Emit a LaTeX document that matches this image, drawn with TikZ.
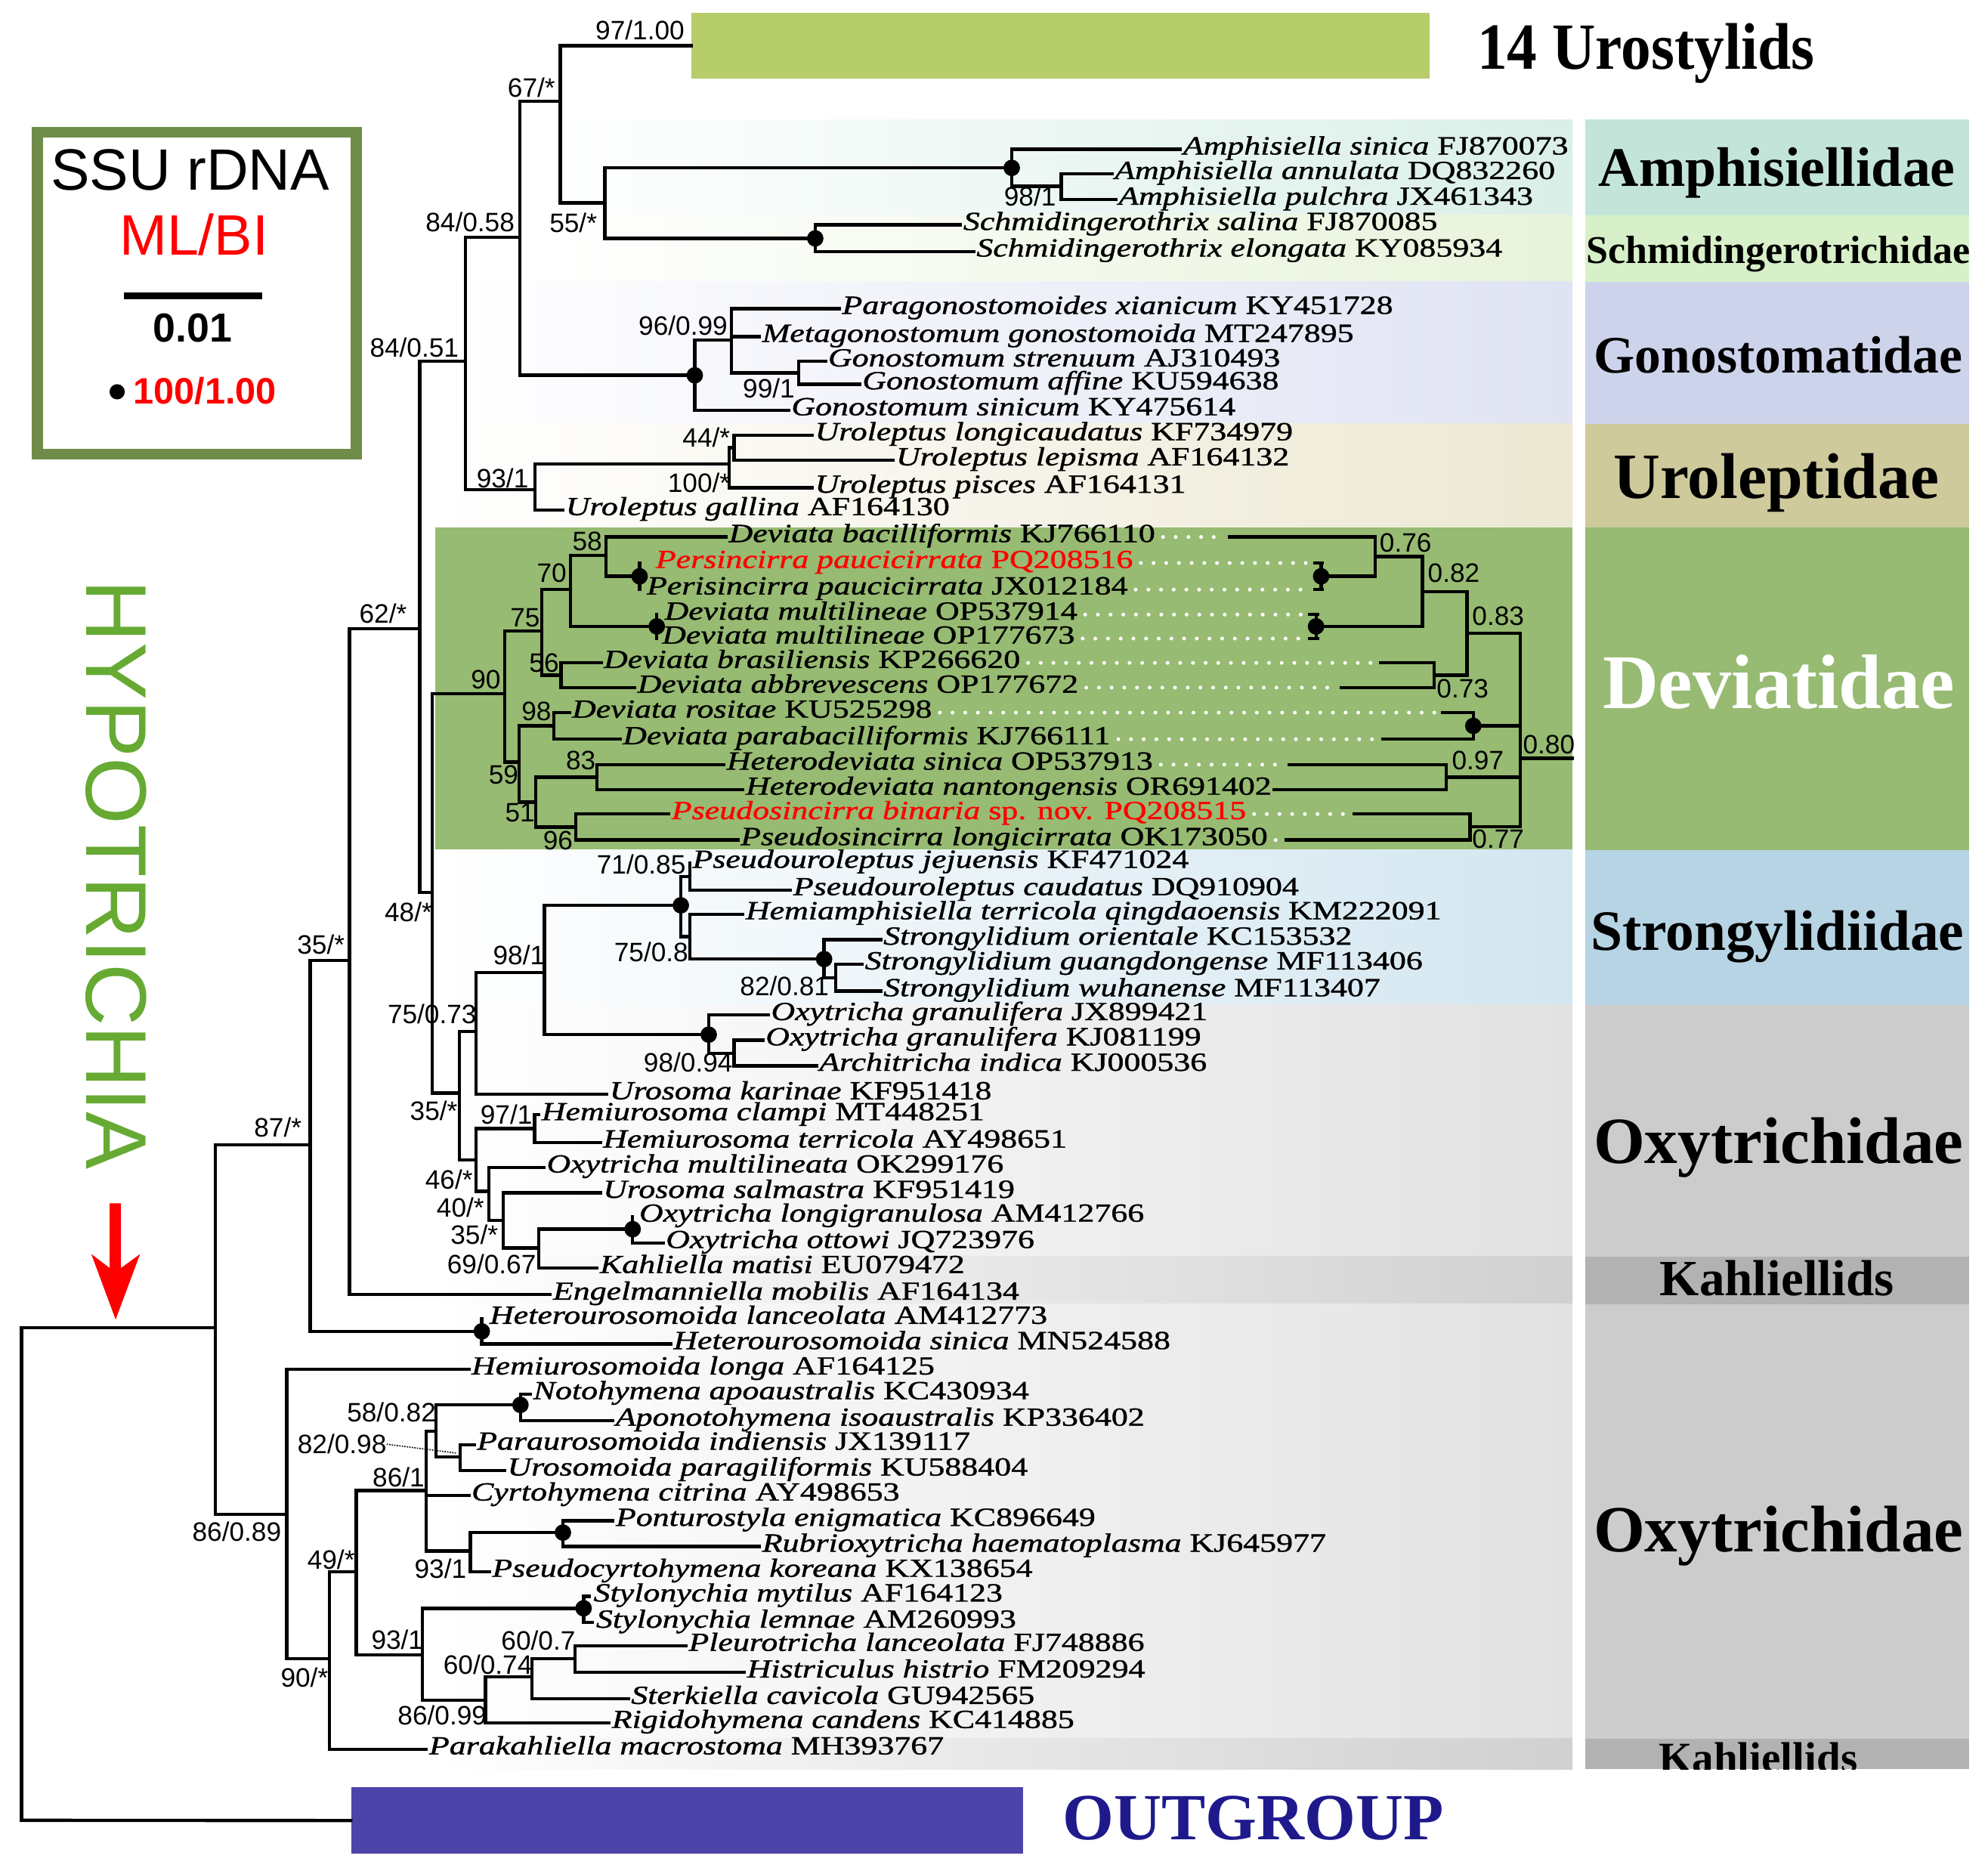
\documentclass[tikz,border=0pt]{standalone}
\usepackage{fontspec}
\setmainfont{Liberation Serif}
\setsansfont{Liberation Sans}
\newfontfamily\taxfont[FakeStretch=1.27,FakeBold=1.2]{Liberation Serif}
\usetikzlibrary{calc}
\newcommand\fsz[1]{\fontsize{#1}{#1}\selectfont}
\newcommand\tn[2]{\textit{#1} #2}
\definecolor{urobar}{HTML}{B7CC6B}
\definecolor{ogbar}{HTML}{4C44A8}
\definecolor{ogtxt}{HTML}{1E1A8C}
\definecolor{legG}{HTML}{6F8C4A}
\definecolor{hypo}{HTML}{66AA33}
\definecolor{amphR}{HTML}{C3E5D9}
\definecolor{schR}{HTML}{D7F0C9}
\definecolor{gonR}{HTML}{CDD3EA}
\definecolor{uroR}{HTML}{CFCA9C}
\definecolor{devG}{HTML}{97BB72}
\definecolor{strR}{HTML}{B6D4E3}
\definecolor{oxyR}{HTML}{CCCCCC}
\definecolor{kahR}{HTML}{B2B2B2}
\definecolor{amphL}{HTML}{DAEFE8}
\definecolor{schL}{HTML}{E8F3DA}
\definecolor{gonL}{HTML}{E0E3F3}
\definecolor{uroL}{HTML}{ECE8D3}
\definecolor{strL}{HTML}{D3E6F0}
\definecolor{oxyL}{HTML}{E2E2E2}
\definecolor{kahL}{HTML}{D0D0D0}
\definecolor{newred}{HTML}{FF0000}
\begin{document}
\begin{tikzpicture}[x=1pt,y=-1pt,
  br/.style={line width=2.6pt, line cap=rect},
  dot/.style={circle, fill=black, inner sep=0pt, minimum size=13pt},
  tx/.style={anchor=base west, inner sep=0pt, xshift=2pt, yshift=-4pt, font=\taxfont\fsz{20.6}},
  sl/.style={inner sep=0pt, font=\sffamily\fsz{21}},
  wdots/.style={white, line width=3pt, line cap=round, dash pattern=on 0pt off 10pt, shorten <=6pt},
  fam/.style={anchor=base, inner sep=0pt}]
\useasboundingbox (0,0) rectangle (1568,1473);
\fill[white] (0,0) rectangle (1568,1473);

% ---------- left background bands ----------
\shade[left color=white, right color=amphL] (420,94.4) rectangle (1240.3,169.6);
\shade[left color=white, right color=schL] (420,169.6) rectangle (1240.3,222);
\shade[left color=white, right color=gonL] (343,222) rectangle (1240.3,334.2);
\shade[left color=white, right color=uroL] (343,334.2) rectangle (1240.3,415.9);
\fill[devG] (343,415.9) rectangle (1240.3,670.3);
\shade[left color=white, right color=strL] (343,670.3) rectangle (1240.3,792.4);
\shade[left color=white, right color=oxyL] (343,792.4) rectangle (1240.3,990.8);
\shade[left color=white, right color=kahL] (343,990.8) rectangle (1240.3,1028.5);
\shade[left color=white, right color=oxyL] (343,1028.5) rectangle (1240.3,1371.3);
\shade[left color=white, right color=kahL] (343,1371.3) rectangle (1240.3,1395.4);

% ---------- right panel ----------
\fill[amphR] (1250.4,94.4) rectangle (1552.8,169.6);
\fill[schR] (1250.4,169.6) rectangle (1552.8,222);
\fill[gonR] (1250.4,222) rectangle (1552.8,334.2);
\fill[uroR] (1250.4,334.2) rectangle (1552.8,415.9);
\fill[devG] (1250.4,415.9) rectangle (1552.8,670.3);
\fill[strR] (1250.4,670.3) rectangle (1552.8,792.4);
\fill[oxyR] (1250.4,792.4) rectangle (1552.8,990.8);
\fill[kahR] (1250.4,990.8) rectangle (1552.8,1028.5);
\fill[oxyR] (1250.4,1028.5) rectangle (1552.8,1371.3);
\fill[kahR] (1250.4,1371.3) rectangle (1552.8,1395.4);

\node[fam, font=\bfseries\fsz{44}] (fAmph) at (1401.6,146.8) {Amphisiellidae};
\node[fam, font=\bfseries\fsz{31}] (fSch) at (1402.5,207.5) {Schmidingerotrichidae};
\node[fam, font=\bfseries\fsz{41.5}] (fGon) at (1402.5,294.1) {Gonostomatidae};
\node[fam, font=\bfseries\fsz{51}] (fUro) at (1401,393) {Uroleptidae};
\node[fam, font=\bfseries\fsz{61}, text=white] (fDev) at (1403,558.5) {Deviatidae};
\node[fam, font=\bfseries\fsz{45}] (fStr) at (1402,749.7) {Strongylidiidae};
\node[fam, font=\bfseries\fsz{52}] (fOxy1) at (1402.8,917.5) {Oxytrichidae};
\node[fam, font=\bfseries\fsz{40}] (fKah1) at (1401.5,1022) {Kahliellids};
\node[fam, font=\bfseries\fsz{52}] (fOxy2) at (1402.8,1224) {Oxytrichidae};
\begin{scope}
\clip (1250.4,1371.3) rectangle (1552.8,1395.4);
\node[inner sep=0pt, anchor=base west, font=\bfseries\fsz{34}] (fKah2) at (1308,1398) {Kahliellids};
\end{scope}

% ---------- bars ----------
\node[fill=urobar, inner sep=0pt, minimum width=582pt, minimum height=51.5pt, anchor=north west] (uro) at (545.4,10.1) {};
\node[anchor=base west, inner sep=0pt, font=\bfseries\fsz{52}] (urol) at (1165,54.7) {\scalebox{0.91}[1]{14 Urostylids}};
\node[fill=ogbar, inner sep=0pt, minimum width=530.3pt, minimum height=52.2pt, anchor=north west] (og) at (276.7,1409.5) {};
\node[anchor=base west, inner sep=0pt, text=ogtxt, font=\bfseries\fsz{52}] (ogl) at (838,1451) {OUTGROUP};

% ---------- legend ----------
\node[draw=legG, line width=8.5pt, minimum width=251.4pt, minimum height=254pt, anchor=north west, inner sep=0pt] (leg) at (25.3,100) {};
\node[anchor=base, inner sep=0pt, font=\sffamily\fsz{46}] (legA) at (150,150) {SSU rDNA};
\node[anchor=base, inner sep=0pt, font=\sffamily\fsz{45}, text=newred] (legB) at (153,201) {ML/BI};
\draw[line width=5.5pt] (98,233.4) -- (207,233.4);
\node[anchor=base, inner sep=0pt, font=\sffamily\bfseries\fsz{32}] (legC) at (152,269.6) {0.01};
\node[dot, minimum size=12pt] (legD) at (92.4,309) {};
\node[anchor=base west, inner sep=0pt, font=\sffamily\bfseries\fsz{29}, text=newred] (legE) at (105,318.8) {100/1.00};

% ---------- HYPOTRICHIA + arrow ----------
\node[rotate=-90, inner sep=0pt, text=hypo, font=\sffamily\fsz{68}] (hyp) at (91.7,690) {HYPOTRICHIA};
\fill[red] (86.5,949) -- (95.5,949) -- (95.5,1000) -- (110.5,989) -- (91.2,1040.7) -- (72,989) -- (86.5,1000) -- cycle;

% ---------- backbone ----------
\draw[br] (17,1047) -- (17,1435.6);
\draw[br] (17,1435.6) -- (og.west);
\draw[br] (17,1047) -- (170,1047);
\draw[br] (244.6,903) -| (170,1047) |- (226.2,1194.4);
\draw[br] (275.6,757.6) -| (244.6,903) |- (380,1050);
\draw[br] (331,496) -| (275.6,757.6) |- (434,1021);
\draw[br] (367,285) -| (331,496) |- (341,704);
\draw[br] (398,547) -| (341,704) |- (362.4,862);
\draw[br] (410,187) -| (367,285) |- (422,386);
\draw[br] (442,80) -| (410,187) |- (548,296);
\draw[br] (uro.west) -| (442,80) |- (477,160);
% Amphisiellidae / Schmidingerotrichidae
\draw[br] (798,132.4) -| (477,160) |- (643,188);
\draw[br] (931,117.8) -| (798,132.4) |- (837,147);
\draw[br] (877,137.2) -| (837,147) |- (880,157.5);
\draw[br] (757.6,177.4) -| (643,188) |- (768,198.3);
% Gonostomatidae
\draw[br] (577,268) -| (548,296) |- (622,323.5);
\draw[br] (662,243.5) -| (577,268) |- (630,294);
\draw[br] (577,265.6) -- (599,265.6);
\draw[br] (651,285) -| (630,294) |- (678,303);
% Uroleptidae
\draw[br] (575,366) -| (422,386) |- (444,402.3);
\draw[br] (579,353) -| (575,366) |- (640.6,384.6);
\draw[br] (640.6,343.2) -| (579,353) |- (704.6,363);
% Deviatidae (ML)
\draw[br] (427.3,497.6) -| (398,547) |- (409.5,601);
\draw[br] (450,465) -| (427.3,497.6) |- (442.6,532.5);
\draw[br] (478,438) -| (450,465) |- (518,494);
\draw[br] (572.7,423.5) -| (478,438) |- (504.5,454.5);
\draw[br] (504.5,444) -- (504.5,465);
\draw[br] (518,484.7) -- (518,503.6);
\draw[br] (474,522.8) -| (442.6,532.5) |- (500.6,542.3);
\draw[br] (436.8,572.5) -| (409.5,601) |- (422.6,632.6);
\draw[br] (449,562) -| (436.8,572.5) |- (489,583);
\draw[br] (471,612.9) -| (422.6,632.6) |- (454,652.3);
\draw[br] (571,603) -| (471,612.9) |- (586,622.8);
\draw[br] (527.5,642) -| (454,652.3) |- (582,662.5);
% Deviatidae (BI, mirrored)
\draw[br] (970,423.5) -| (1084.6,439) |- (1042,454.5);
\draw[br] (1042,444) -- (1042,465);
\draw[br] (1037,444) -- (1043,444);
\draw[br] (1037,465) -- (1043,465);
\draw[br] (1033,484.7) -- (1039,484.7);
\draw[br] (1033,503.6) -- (1039,503.6);
\draw[br] (1038,484.7) -- (1038,503.6);
\draw[br] (1084.6,439) -| (1122,466.5) |- (1038,494);
\draw[br] (1089,522.8) -| (1131,532.5) |- (1057.8,542.3);
\draw[br] (1122,466.5) -| (1157,499.5) |- (1131,532.5);
\draw[br] (1157,499.5) -| (1199,598) |- (1159.5,652);
\draw[br] (1199,598) -- (1240,598);
\draw[br] (1138,562) -| (1162,572.5) |- (1090.6,583);
\draw[br] (1162,572.5) -- (1199,572.5);
\draw[br] (1016.8,603) -| (1140.6,613) |- (1005,622.8);
\draw[br] (1140.6,613) -- (1199,613);
\draw[br] (1068,642) -| (1159.5,652) |- (1014.4,662.5);
% Strongylidiidae + Oxytrichidae upper
\draw[br] (375.5,813.6) -| (362.4,862) |- (375.5,914.7);
\draw[br] (429.4,767) -| (375.5,813.6) |- (478.6,863);
\draw[br] (537,714) -| (429.4,767) |- (559,816);
\draw[br] (544,691.3) -| (537,714) |- (544,738.7);
\draw[br] (544,680.4) -| (544,691.3) |- (623.5,702);
\draw[br] (586,721) -| (544,738.7) |- (650,756.4);
\draw[br] (694.6,741) -| (650,756.4) |- (659,771);
\draw[br] (680,760.5) -| (659,771) |- (694.6,781.7);
\draw[br] (606,800.5) -| (559,816) |- (579,830.6);
\draw[br] (601.7,820.4) -| (579,830.6) |- (644,840.5);
\draw[br] (421.6,890) -| (375.5,914.7) |- (385.6,939.6);
\draw[br] (425,879) -| (421.6,890) |- (473.5,901);
\draw[br] (429,920.7) -| (385.6,939.6) |- (397,962.5);
\draw[br] (473.5,940.7) -| (397,962.5) |- (425,984.3);
\draw[br] (499,969.4) -| (425,984.3) |- (471,1000);
\draw[br] (499,959.5) -- (499,980.3) -- (523,980.3);
\draw[br] (380,1040) -- (380,1060) -- (529,1060);
% lower clade
\draw[br] (369.7,1080) -| (226.2,1194.4) |- (260,1308);
\draw[br] (281,1239.6) -| (260,1308) |- (336.3,1379.6);
\draw[br] (336,1175.6) -| (281,1239.6) |- (333,1305);
\draw[br] (344,1128.7) -| (336,1175.6) |- (371,1223.3);
\draw[br] (336,1179.4) -- (369.7,1179.4);
\draw[br] (410.5,1108) -| (344,1128.7) |- (363,1149);
\draw[br] (418.4,1099.5) -| (410.5,1108) |- (483.4,1120.4);
\draw[br] (374,1139.3) -| (363,1149) |- (398,1159.7);
\draw[br] (444,1208.7) -| (371,1223.3) |- (386,1239.6);
\draw[br] (483.5,1199.4) -| (444,1208.7) |- (599,1219.7);
\draw[br] (460.3,1268.4) -| (333,1305) |- (383,1340.8);
\draw[br] (465,1259) -| (460.3,1268.4) |- (467,1279.7);
\draw[br] (419.6,1322.4) -| (383,1340.8) |- (480.4,1358.8);
\draw[br] (453.6,1308) -| (419.6,1322.4) |- (495.6,1339.8);
\draw[br] (541,1298) -| (453.6,1308) |- (587,1319);

% ---------- node dots ----------
\node[dot] (d1) at (798,132.4) {};
\node[dot] (d2) at (643,188) {};
\node[dot] (d3) at (548,296) {};
\node[dot] (d4) at (504.5,454.5) {};
\node[dot] (d5) at (518,494) {};
\node[dot] (d6) at (1042,454.5) {};
\node[dot] (d7) at (1038,494) {};
\node[dot] (d8) at (1162,572.5) {};
\node[dot] (d9) at (537,714) {};
\node[dot] (d10) at (650,756.4) {};
\node[dot] (d11) at (559,816) {};
\node[dot] (d12) at (499,969.4) {};
\node[dot] (d13) at (380,1050) {};
\node[dot] (d14) at (410.5,1108) {};
\node[dot] (d15) at (444,1208.7) {};
\node[dot] (d16) at (460.3,1268.4) {};

% ---------- taxa ----------
\node[tx] (t1) at (931,117.8) {\tn{Amphisiella sinica}{FJ870073}};
\node[tx] (t2) at (877,137.2) {\tn{Amphisiella annulata}{DQ832260}};
\node[tx] (t3) at (880,157.5) {\tn{Amphisiella pulchra}{JX461343}};
\node[tx] (t4) at (757.6,177.4) {\tn{Schmidingerothrix salina}{FJ870085}};
\node[tx] (t5) at (768,198.3) {\tn{Schmidingerothrix elongata}{KY085934}};
\node[tx] (t6) at (662,243.5) {\tn{Paragonostomoides xianicum}{KY451728}};
\node[tx] (t7) at (599,265.6) {\tn{Metagonostomum gonostomoida}{MT247895}};
\node[tx] (t8) at (651,285) {\tn{Gonostomum strenuum}{AJ310493}};
\node[tx] (t9) at (678,303) {\tn{Gonostomum affine}{KU594638}};
\node[tx] (t10) at (622,323.5) {\tn{Gonostomum sinicum}{KY475614}};
\node[tx] (t11) at (640.6,343.2) {\tn{Uroleptus longicaudatus}{KF734979}};
\node[tx] (t12) at (704.6,363) {\tn{Uroleptus lepisma}{AF164132}};
\node[tx] (t13) at (640.6,384.6) {\tn{Uroleptus pisces}{AF164131}};
\node[tx] (t14) at (444,402.3) {\tn{Uroleptus gallina}{AF164130}};
\node[tx] (t15) at (572.7,423.5) {\tn{Deviata bacilliformis}{KJ766110}};
\node[tx, text=newred] (t16) at (515,444) {\tn{Persincirra paucicirrata}{PQ208516}};
\node[tx] (t17) at (508,464.8) {\tn{Perisincirra paucicirrata}{JX012184}};
\node[tx] (t18) at (522,484.7) {\tn{Deviata multilineae}{OP537914}};
\node[tx] (t19) at (520,503.6) {\tn{Deviata multilineae}{OP177673}};
\node[tx] (t20) at (474,522.8) {\tn{Deviata brasiliensis}{KP266620}};
\node[tx] (t21) at (500.6,542.3) {\tn{Deviata abbrevescens}{OP177672}};
\node[tx] (t22) at (449,562) {\tn{Deviata rositae}{KU525298}};
\node[tx] (t23) at (489,583) {\tn{Deviata parabacilliformis}{KJ766111}};
\node[tx] (t24) at (571,603) {\tn{Heterodeviata sinica}{OP537913}};
\node[tx] (t25) at (586,622.8) {\tn{Heterodeviata nantongensis}{OR691402}};
\node[tx, text=newred] (t26) at (527.5,642) {\textit{Pseudosincirra binaria} sp. nov. PQ208515};
\node[tx] (t27) at (582,662.5) {\tn{Pseudosincirra longicirrata}{OK173050}};
\node[tx] (t28) at (544,680.4) {\tn{Pseudouroleptus jejuensis}{KF471024}};
\node[tx] (t29) at (623.5,702) {\tn{Pseudouroleptus caudatus}{DQ910904}};
\node[tx] (t30) at (586,721) {\tn{Hemiamphisiella terricola qingdaoensis}{KM222091}};
\node[tx] (t31) at (694.6,741) {\tn{Strongylidium orientale}{KC153532}};
\node[tx] (t32) at (680,760.5) {\tn{Strongylidium guangdongense}{MF113406}};
\node[tx] (t33) at (694.6,781.7) {\tn{Strongylidium wuhanense}{MF113407}};
\node[tx] (t34) at (606,800.5) {\tn{Oxytricha granulifera}{JX899421}};
\node[tx] (t35) at (601.7,820.4) {\tn{Oxytricha granulifera}{KJ081199}};
\node[tx] (t36) at (644,840.5) {\tn{Architricha indica}{KJ000536}};
\node[tx] (t37) at (478.6,863) {\tn{Urosoma karinae}{KF951418}};
\node[tx] (t38) at (425,879.5) {\tn{Hemiurosoma clampi}{MT448251}};
\node[tx] (t39) at (473.5,901) {\tn{Hemiurosoma terricola}{AY498651}};
\node[tx] (t40) at (429,920.7) {\tn{Oxytricha multilineata}{OK299176}};
\node[tx] (t41) at (473.5,940.7) {\tn{Urosoma salmastra}{KF951419}};
\node[tx] (t42) at (502,959.5) {\tn{Oxytricha longigranulosa}{AM412766}};
\node[tx] (t43) at (523,980.3) {\tn{Oxytricha ottowi}{JQ723976}};
\node[tx] (t44) at (471,1000) {\tn{Kahliella matisi}{EU079472}};
\node[tx] (t45) at (434,1021) {\tn{Engelmanniella mobilis}{AF164134}};
\node[tx] (t46) at (384,1040) {\tn{Heterourosomoida lanceolata}{AM412773}};
\node[tx] (t47) at (529,1060) {\tn{Heterourosomoida sinica}{MN524588}};
\node[tx] (t48) at (369.7,1080) {\tn{Hemiurosomoida longa}{AF164125}};
\node[tx] (t49) at (418.4,1099.5) {\tn{Notohymena apoaustralis}{KC430934}};
\node[tx] (t50) at (483.4,1120.4) {\tn{Aponotohymena isoaustralis}{KP336402}};
\node[tx] (t51) at (374,1139.3) {\tn{Paraurosomoida indiensis}{JX139117}};
\node[tx] (t52) at (398,1159.7) {\tn{Urosomoida paragiliformis}{KU588404}};
\node[tx] (t53) at (369.7,1179.4) {\tn{Cyrtohymena citrina}{AY498653}};
\node[tx] (t54) at (483.5,1199.4) {\tn{Ponturostyla enigmatica}{KC896649}};
\node[tx] (t55) at (599,1219.7) {\tn{Rubrioxytricha haematoplasma}{KJ645977}};
\node[tx] (t56) at (386,1239.6) {\tn{Pseudocyrtohymena koreana}{KX138654}};
\node[tx] (t57) at (466,1259) {\tn{Stylonychia mytilus}{AF164123}};
\node[tx] (t58) at (468,1279.7) {\tn{Stylonychia lemnae}{AM260993}};
\node[tx] (t59) at (541,1298) {\tn{Pleurotricha lanceolata}{FJ748886}};
\node[tx] (t60) at (587,1319) {\tn{Histriculus histrio}{FM209294}};
\node[tx] (t61) at (495.6,1339.8) {\tn{Sterkiella cavicola}{GU942565}};
\node[tx] (t62) at (480.4,1358.8) {\tn{Rigidohymena candens}{KC414885}};
\node[tx] (t63) at (336.3,1379.6) {\tn{Parakahliella macrostoma}{MH393767}};

% ---------- white dotted leaders (Deviatidae) ----------
\coordinate (b15) at (965,423.5);
\coordinate (b16) at (1034,444);
\coordinate (b17) at (1034,465);
\coordinate (b18) at (1029,484.7);
\coordinate (b19) at (1029,503.6);
\coordinate (b20) at (1083,522.8);
\coordinate (b21) at (1052,542.3);
\coordinate (b22) at (1132,562);
\coordinate (b23) at (1085,583);
\coordinate (b24) at (1010,603);
\coordinate (b26) at (1061,642);
\coordinate (b27) at (1008,662.5);
\foreach \i in {15,16,17,18,19,20,21,22,23,24,26,27}{
  \draw[wdots] (t\i.east |- b\i) -- (b\i);
}

% ---------- support values ----------
\node[sl, anchor=east] (s1) at (540,23.5) {97/1.00};
\node[sl, anchor=east] (s2) at (438,69) {67/*};
\node[sl, anchor=east] (s3) at (471,176) {55/*};
\node[sl, anchor=east] (s4) at (406,175) {84/0.58};
\node[sl, anchor=east] (s5) at (362,274) {84/0.51};
\node[sl, anchor=east] (s6) at (417,377) {93/1};
\node[sl, anchor=east] (s7) at (574,257) {96/0.99};
\node[sl, anchor=east] (s8) at (627,306) {99/1};
\node[sl, anchor=east] (s9) at (833,155) {98/1};
\node[sl, anchor=east] (s10) at (576,345) {44/*};
\node[sl, anchor=east] (s11) at (576,381) {100/*};
\node[sl, anchor=east] (s12) at (475,427) {58};
\node[sl, anchor=east] (s13) at (447,452) {70};
\node[sl, anchor=east] (s14) at (426,487) {75};
\node[sl, anchor=east] (s15) at (441,523) {56};
\node[sl, anchor=east] (s16) at (395,536) {90};
\node[sl, anchor=east] (s17) at (435,561) {98};
\node[sl, anchor=east] (s18) at (409,611) {59};
\node[sl, anchor=east] (s19) at (470,600) {83};
\node[sl, anchor=east] (s20) at (422,641) {51};
\node[sl, anchor=east] (s21) at (452,663) {96};
\node[sl, anchor=east] (s22) at (541,682) {71/0.85};
\node[sl, anchor=east] (s23) at (543,751) {75/0.8};
\node[sl, anchor=east] (s24) at (654,777.5) {82/0.81};
\node[sl, anchor=east] (s25) at (430,753) {98/1};
\node[sl, anchor=east] (s26) at (376,800) {75/0.73};
\node[sl, anchor=east] (s27) at (578,838) {98/0.94};
\node[sl, anchor=east] (s28) at (341,719) {48/*};
\node[sl, anchor=east] (s29) at (272,745) {35/*};
\node[sl, anchor=east] (s30) at (321,484) {62/*};
\node[sl, anchor=east] (s31) at (238,889) {87/*};
\node[sl, anchor=east] (s32) at (222,1208) {86/0.89};
\node[sl, anchor=east] (s33) at (361,876) {35/*};
\node[sl, anchor=east] (s34) at (420,879) {97/1};
\node[sl, anchor=east] (s35) at (373,930) {46/*};
\node[sl, anchor=east] (s36) at (382,952) {40/*};
\node[sl, anchor=east] (s37) at (393,974) {35/*};
\node[sl, anchor=east] (s38) at (423,997) {69/0.67};
\node[sl, anchor=east] (s39) at (344,1114) {58/0.82};
\node[sl, anchor=east] (s40) at (305,1139) {82/0.98};
\node[sl, anchor=east] (s41) at (335,1165) {86/1};
\node[sl, anchor=east] (s42) at (368,1237) {93/1};
\node[sl, anchor=east] (s43) at (280,1230) {49/*};
\node[sl, anchor=east] (s44) at (334,1293) {93/1};
\node[sl, anchor=east] (s45) at (454,1294) {60/0.7};
\node[sl, anchor=east] (s46) at (420,1313) {60/0.74};
\node[sl, anchor=east] (s47) at (384,1353) {86/0.99};
\node[sl, anchor=east] (s48) at (259,1323) {90/*};
\coordinate (pu) at (360,1146);
\draw[densely dotted, line width=1pt] (s40.east) -- (pu);
% BI values
\node[sl, anchor=west] (v1) at (1088,428) {0.76};
\node[sl, anchor=west] (v2) at (1126,452) {0.82};
\node[sl, anchor=west] (v3) at (1161,486) {0.83};
\node[sl, anchor=west] (v4) at (1133,543) {0.73};
\node[sl, anchor=west] (v5) at (1201,587) {0.80};
\node[sl, anchor=west] (v6) at (1145,600) {0.97};
\node[sl, anchor=west] (v7) at (1161,662) {0.77};
\end{tikzpicture}
\end{document}
